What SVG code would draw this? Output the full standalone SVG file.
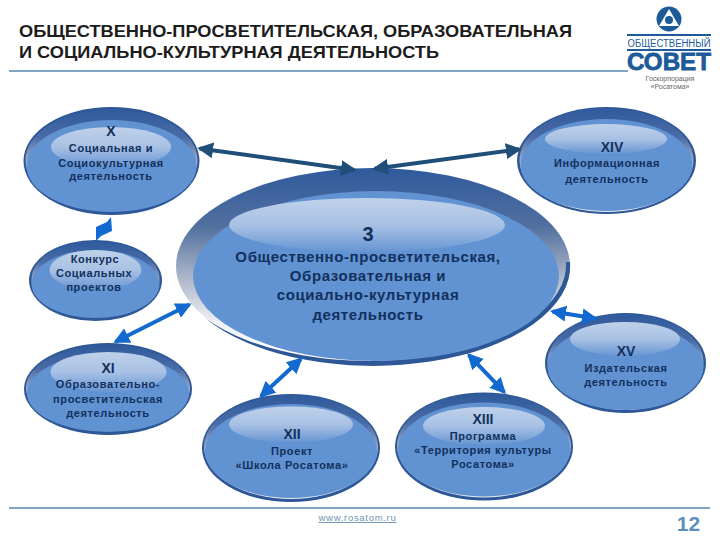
<svg xmlns="http://www.w3.org/2000/svg" width="720" height="540" viewBox="0 0 720 540">
<defs>
<linearGradient id="rim" x1="0" y1="0" x2="0" y2="1"><stop offset="0" stop-color="#2f5a9c"/><stop offset="0.28" stop-color="#4a6ca6"/><stop offset="0.6" stop-color="#b9c4d8"/><stop offset="1" stop-color="#e8ecf2"/></linearGradient>
<linearGradient id="mainrim" x1="0" y1="0" x2="0" y2="1"><stop offset="0" stop-color="#2f5a9c"/><stop offset="0.3" stop-color="#52709f"/><stop offset="0.55" stop-color="#a9b4c8"/><stop offset="0.8" stop-color="#f2f3f6"/><stop offset="1" stop-color="#ffffff"/></linearGradient>
<linearGradient id="hi" x1="0" y1="0" x2="0" y2="1"><stop offset="0" stop-color="#bfd1ea"/><stop offset="0.5" stop-color="#a8c1e4"/><stop offset="1" stop-color="#6795d2"/></linearGradient>
<marker id="hd" markerWidth="4" markerHeight="4" refX="3.4" refY="2" orient="auto-start-reverse" markerUnits="strokeWidth" viewBox="0 0 4 4"><path d="M0 0L4 2L0 4Z" fill="context-stroke"/></marker>
</defs>
<style>
text{font-family:"Liberation Sans",Arial,sans-serif;text-anchor:middle}
.t{font-size:17px;font-weight:700;fill:#1c1c1c;text-anchor:start}
.n{font-size:14px;fill:#12305c;font-weight:700}
.s{font-size:11px;fill:#12305c;font-weight:700;letter-spacing:.6px}
.m{font-size:15px;fill:#12305c;font-weight:700;letter-spacing:.6px}
.base{fill:#2d5796}
.rim{fill:url(#rim)}
.face{fill:#6192d2}
.hi{fill:url(#hi)}
.dk{fill:none;stroke:#1f4e79;stroke-width:4;marker-start:url(#hd);marker-end:url(#hd)}
.bl{fill:none;stroke:#1269cf;stroke-width:4;marker-start:url(#hd);marker-end:url(#hd)}
</style>
<text class="t" x="19" y="37" textLength="553" lengthAdjust="spacingAndGlyphs">ОБЩЕСТВЕННО-ПРОСВЕТИТЕЛЬСКАЯ, ОБРАЗОВАТЕЛЬНАЯ</text>
<text class="t" x="19" y="58" textLength="420" lengthAdjust="spacingAndGlyphs">И СОЦИАЛЬНО-КУЛЬТУРНАЯ ДЕЯТЕЛЬНОСТЬ</text>
<rect x="9" y="70" width="619" height="2" fill="#7fa5c2"/>
<g id="logo">
<circle cx="669" cy="19" r="12.500" fill="#1c5a99"/>
<path d="M669 9L679 26H659Z" fill="#fff"/><circle cx="669" cy="20" r="4" fill="#1c5a99"/>
<rect x="627" y="34" width="84" height="2" fill="#1c5a99"/>
<text x="669" y="47" font-size="10" fill="#1c5a99" textLength="83" lengthAdjust="spacingAndGlyphs">ОБЩЕСТВЕННЫЙ</text>
<rect x="627" y="49" width="84" height="2" fill="#1c5a99"/>
<text x="669" y="70" font-size="24" font-weight="700" fill="#1c5a99" stroke="#1c5a99" stroke-width=".8" textLength="84" lengthAdjust="spacingAndGlyphs">СОВЕТ</text>
<text x="670" y="81" font-size="7" fill="#666">Госкорпорация</text>
<text x="670" y="89" font-size="7" fill="#666">«Росатома»</text>
</g>
<g id="main">
<ellipse cx="373" cy="266" rx="197" ry="98" fill="url(#mainrim)"/>
<path d="M570 262A197 100 0 0 1 205 318A197 96 0 0 0 566 262Z" fill="#2d5796"/>
<ellipse cx="376" cy="276" rx="183" ry="85" class="face"/>
<ellipse cx="367" cy="225" rx="138" ry="27" class="hi"/>
<text x="368" y="241" font-size="20" fill="#12305c" font-weight="700">3</text>
<text class="m" x="368" y="262">Общественно-просветительская,</text>
<text class="m" x="368" y="281">Образовательная и</text>
<text class="m" x="368" y="300">социально-культурная</text>
<text class="m" x="368" y="320">деятельность</text>
</g>
<g id="n10">
<ellipse class="base" cx="111.500" cy="161" rx="88" ry="54"/>
<ellipse class="rim" cx="111.500" cy="160" rx="86" ry="51"/>
<ellipse class="face" cx="111.500" cy="166" rx="85" ry="46"/>
<ellipse class="hi" cx="111" cy="147" rx="60" ry="20"/>
<text class="n" x="111" y="136">X</text>
<text class="s" x="111" y="152">Социальная и</text>
<text class="s" x="111" y="167">Социокультурная</text>
<text class="s" x="111" y="180">деятельность</text>
</g>
<g id="n14">
<ellipse class="base" cx="606.500" cy="160.500" rx="89.500" ry="53.500"/>
<ellipse class="rim" cx="606.500" cy="160" rx="87" ry="52"/>
<ellipse class="face" cx="606.500" cy="165" rx="86" ry="46"/>
<ellipse class="hi" cx="606" cy="139" rx="61" ry="15"/>
<text class="n" x="612" y="152">XIV</text>
<text class="s" x="607" y="167">Информационная</text>
<text class="s" x="607" y="183">деятельность</text>
</g>
<g id="konkurs">
<ellipse class="base" cx="95.500" cy="280.500" rx="66.500" ry="40.500"/>
<ellipse class="rim" cx="95.500" cy="279" rx="64" ry="38"/>
<ellipse class="face" cx="95.500" cy="284" rx="64" ry="34"/>
<ellipse class="hi" cx="95.500" cy="270" rx="46" ry="20"/>
<text class="s" x="95" y="263">Конкурс</text>
<text class="s" x="94" y="277">Социальных</text>
<text class="s" x="94" y="291">проектов</text>
</g>
<g id="n11">
<ellipse class="base" cx="108" cy="389" rx="84" ry="46"/>
<ellipse class="rim" cx="108" cy="388" rx="82" ry="43"/>
<ellipse class="face" cx="108" cy="393" rx="81" ry="39"/>
<ellipse class="hi" cx="108.500" cy="372" rx="58" ry="20"/>
<text class="n" x="108" y="373">XI</text>
<text class="s" x="108" y="388">Образовательно-</text>
<text class="s" x="108" y="403">просветительская</text>
<text class="s" x="108" y="417">деятельность</text>
</g>
<g id="n12">
<ellipse class="base" cx="291" cy="448" rx="89" ry="54"/>
<ellipse class="rim" cx="291" cy="447" rx="87" ry="52"/>
<ellipse class="face" cx="291" cy="451" rx="86" ry="47"/>
<ellipse class="hi" cx="291" cy="424.500" rx="62" ry="18"/>
<text class="n" x="292" y="439">XII</text>
<text class="s" x="292" y="455">Проект</text>
<text class="s" x="292" y="469">«Школа Росатома»</text>
</g>
<g id="n13">
<ellipse class="base" cx="484" cy="446.500" rx="89" ry="54"/>
<ellipse class="rim" cx="484" cy="445.500" rx="87" ry="52"/>
<ellipse class="face" cx="484" cy="449.500" rx="86" ry="47"/>
<ellipse class="hi" cx="484" cy="426" rx="61" ry="19"/>
<text class="n" x="483" y="424">XIII</text>
<text class="s" x="483" y="440">Программа</text>
<text class="s" x="483" y="454">«Территория культуры</text>
<text class="s" x="483" y="468">Росатома»</text>
</g>
<g id="n15">
<ellipse class="base" cx="625.500" cy="363" rx="80.500" ry="50"/>
<ellipse class="rim" cx="625.500" cy="362" rx="78" ry="48"/>
<ellipse class="face" cx="625.500" cy="367" rx="78" ry="43"/>
<ellipse class="hi" cx="625" cy="339" rx="55" ry="17"/>
<text class="n" x="626" y="356">XV</text>
<text class="s" x="626" y="372">Издательская</text>
<text class="s" x="626" y="386">деятельность</text>
</g>
<g id="connectors">
<line class="dk" x1="199.500" y1="148.400" x2="354.500" y2="170"/>
<line class="dk" x1="374.500" y1="168.700" x2="519.500" y2="149.300"/>
<path d="M111 217L112 231L101 236L96 241L96 227L107 222Z" fill="#1269cf"/>
<line class="bl" x1="189.500" y1="304.500" x2="115.500" y2="341.700"/>
<line class="bl" x1="301" y1="359" x2="261" y2="396"/>
<line class="bl" x1="468.700" y1="354.800" x2="504.300" y2="392.200"/>
<line class="bl" x1="552.400" y1="311.500" x2="595.600" y2="318.500"/>
</g>
<g id="footer">
<rect x="9" y="507" width="701" height="2" fill="#7fa5c2"/>
<text x="357.500" y="521" font-size="9.500" fill="#6d94b5" letter-spacing=".7" text-decoration="underline">www.rosatom.ru</text>
<text x="688.500" y="531" font-size="21" font-weight="700" fill="#5f8fc0">12</text>
</g>
</svg>
